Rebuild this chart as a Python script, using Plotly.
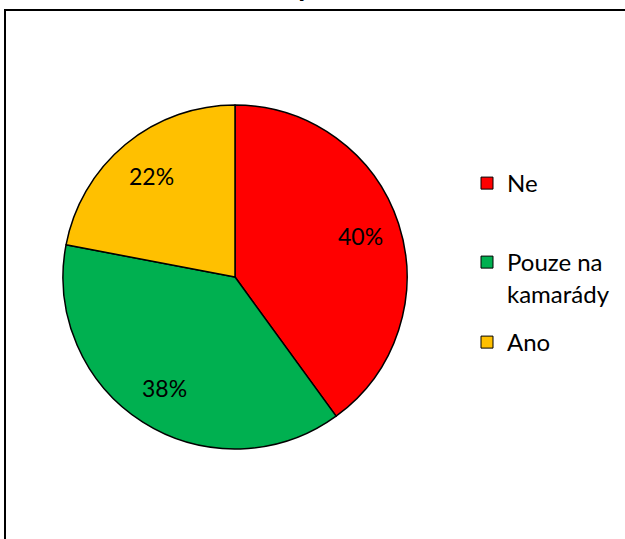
import math
import plotly.graph_objects as go

labels = ["Ne", "Pouze na<br>kamarády", "Ano"]
values = [40, 38, 22]
colors = ["#FF0000", "#00B050", "#FFC000"]
title_text = "Sdílíte své fotky?"

W, H = 625, 539
cx, cy, r = 235, 277, 172
label_r = 0.765  # radial position of percentage labels (fraction of radius)

fig = go.Figure()
fig.add_trace(go.Pie(
    labels=labels,
    values=values,
    marker=dict(colors=colors, line=dict(color="black", width=1.5)),
    sort=False,
    direction="clockwise",
    rotation=0,
    textinfo="none",
    domain=dict(x=[(cx - r) / W, (cx + r) / W], y=[1 - (cy + r) / H, 1 - (cy - r) / H]),
    hoverinfo="label+percent",
    showlegend=False,
))

# percentage labels placed at the middle angle of each slice
total = sum(values)
annotations = []
cum = 0
for v in values:
    mid = (cum + v / 2) / total * 2 * math.pi
    cum += v
    px = cx + label_r * r * math.sin(mid)
    py = cy - label_r * r * math.cos(mid)
    annotations.append(dict(text=f"{round(100 * v / total)}%", xref="paper", yref="paper",
                            x=px / W, y=1 - py / H, xanchor="center", yanchor="middle",
                            showarrow=False, font=dict(family="Lato", size=23, color="black")))

# legend entries (one legend each, to reproduce the spacing)
legend_tops = [161, 240, 320]
legend_names = ["legend", "legend2", "legend3"]
for lab, col, ln in zip(labels, colors, legend_names):
    fig.add_trace(go.Scatter(
        x=[None], y=[None], mode="markers", name=lab,
        marker=dict(symbol="square", size=12, color=col, line=dict(color="black", width=1)),
        legend=ln, showlegend=True, hoverinfo="skip",
    ))

legend_common = dict(xanchor="left", yanchor="top", valign="top",
                     font=dict(family="Lato", size=24, color="black"),
                     bgcolor="rgba(0,0,0,0)", itemwidth=30)

annotations.append(dict(text="<b>" + title_text + "</b>", xref="paper", yref="paper",
                        x=212 / W, y=1 - 4 / H, xanchor="center", yanchor="bottom",
                        showarrow=False, font=dict(family="Lato", size=30, color="black")))

fig.update_layout(
    width=W, height=H,
    margin=dict(l=0, r=0, t=0, b=0),
    paper_bgcolor="white",
    plot_bgcolor="white",
    font=dict(family="Lato", size=22, color="black"),
    xaxis=dict(visible=False),
    yaxis=dict(visible=False),
    legend=dict(x=467 / W, y=1 - legend_tops[0] / H, **legend_common),
    legend2=dict(x=467 / W, y=1 - legend_tops[1] / H, **legend_common),
    legend3=dict(x=467 / W, y=1 - legend_tops[2] / H, **legend_common),
    shapes=[dict(type="rect", xref="paper", yref="paper", layer="above",
                 x0=5 / W, x1=1.05, y0=-0.05, y1=1 - 10 / H,
                 line=dict(color="black", width=2))],
    annotations=annotations,
)

fig.write_html("out.html", config={"displayModeBar": False},
               post_script="document.body.style.margin='0';")
